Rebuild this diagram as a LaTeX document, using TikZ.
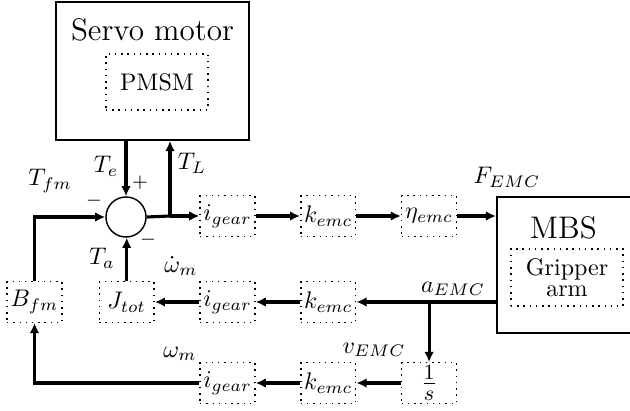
\documentclass[tikz,border=0pt]{standalone}
\usepackage{amsmath}
\usetikzlibrary{positioning,arrows.meta,calc}
\tikzset{
  blk/.style ={draw, dotted, semithick, minimum width=22.9pt, minimum height=16.9pt,
               inner sep=1pt, align=center},
  sys/.style ={draw, thick},
  sum/.style ={draw, circle, semithick, minimum size=16.7pt, inner sep=0pt},
  fl/.style  ={-{Latex[length=4.2pt,width=4pt]}, line width=1.3pt},
  ln/.style  ={line width=1.3pt},
  ttl/.style ={font=\fontsize{13}{15}\selectfont},
  sgn/.style ={font=\footnotesize, inner sep=0pt},
  lbl/.style ={inner sep=0pt},
}

\begin{document}
\begin{tikzpicture}[x=0.4167pt, y=-0.4167pt, node distance=18.5pt]
  \useasboundingbox (0,0) rectangle (630,410);

  % servo motor with the PMSM inside
  \node[sys, minimum width=80.4pt, minimum height=57.5pt] (servo) at (152.5,71) {};
  \node[ttl] (servottl) at (152.5,30) {Servo motor};
  \node[blk, minimum width=42.5pt, minimum height=23.3pt] (pmsm) at (157,82) {PMSM};

  % multibody system, runs off the right edge
  \node[sys, minimum width=63.8pt, minimum height=56.7pt] (mbs) at (573.5,265) {};
  \node[ttl] (mbsttl) at (563.5,228) {MBS};
  \node[blk, minimum width=46.7pt, minimum height=23.8pt]
        (grip) at (567,277.5) {Gripper\\[-3pt]arm};

  % summing junction
  \node[sum] (sum) at (126,217) {};

  % forward path
  \node[blk] (ig1) at (227.5,216) {$i_{gear}$};
  \node[blk, right=of ig1] (ke1) {$k_{emc}$};
  \node[blk, right=of ke1] (eta) {$\eta_{emc}$};

  % acceleration feedback
  \node[blk] (ig2) at (227.5,302) {$i_{gear}$};
  \node[blk, right=of ig2] (ke2) {$k_{emc}$};
  \node[blk, left=of ig2] (jt) {$J_{tot}$};
  \node[blk] (bf) at (34.5,302) {$B_{fm}$};

  % velocity feedback
  \node[blk] (ig3) at (227.5,383) {$i_{gear}$};
  \node[blk, right=of ig3] (ke3) {$k_{emc}$};
  \node[blk, inner sep=0.5pt, font=\fontsize{13}{15}\selectfont, right=of ke3] (inv) {$\frac{1}{s}$};

  \coordinate (tl) at (170,216);
  \coordinate (ae) at (inv.north |- ke2);

  % connectors
  \draw[fl] (sum |- servo.south) -- (sum.north);
  \draw[ln] (sum.east) -- (tl);
  \draw[fl] (tl) -- (ig1.west);
  \draw[fl] (tl) -- (tl |- servo.south);
  \draw[fl] (ig1) -- (ke1);
  \draw[fl] (ke1) -- (eta);
  \draw[fl] (eta) -- (eta -| mbs.west);

  \draw[ln] (mbs.west |- ke2) -- (ae);
  \draw[fl] (ae) -- (ke2.east);
  \draw[fl] (ae) -- (inv.north);
  \draw[fl] (ke2) -- (ig2);
  \draw[fl] (ig2) -- (jt);
  \draw[fl] (jt.north) -- (jt.north |- sum.south);

  \draw[fl] (inv) -- (ke3);
  \draw[fl] (ke3) -- (ig3);
  \draw[fl] (ig3.west) -| (bf.south);
  \draw[fl] (bf.north) |- (sum.west);

  % signal labels
  \node[lbl] (tfm)  at (50,181)  {$T_{fm}$};
  \node[lbl] (te)   at (106,166) {$T_e$};
  \node[lbl] (tlab) at (192,163) {$T_L$};
  \node[lbl] (ta)   at (102,258) {$T_a$};
  \node[lbl] (wd)   at (181,266) {$\dot{\omega}_m$};
  \node[lbl] (w)    at (180,354) {$\omega_m$};
  \node[lbl] (fe)   at (507,177) {$F_{EMC}$};
  \node[lbl] (aemc) at (453,289) {$a_{EMC}$};
  \node[lbl] (vemc) at (374,350) {$v_{EMC}$};

  % signs at the junction
  \node[sgn] (sp)  at (140,183) {$+$};
  \node[sgn] (sm1) at (94,201)  {$-$};
  \node[sgn] (sm2) at (148,240) {$-$};
\end{tikzpicture}
\end{document}
